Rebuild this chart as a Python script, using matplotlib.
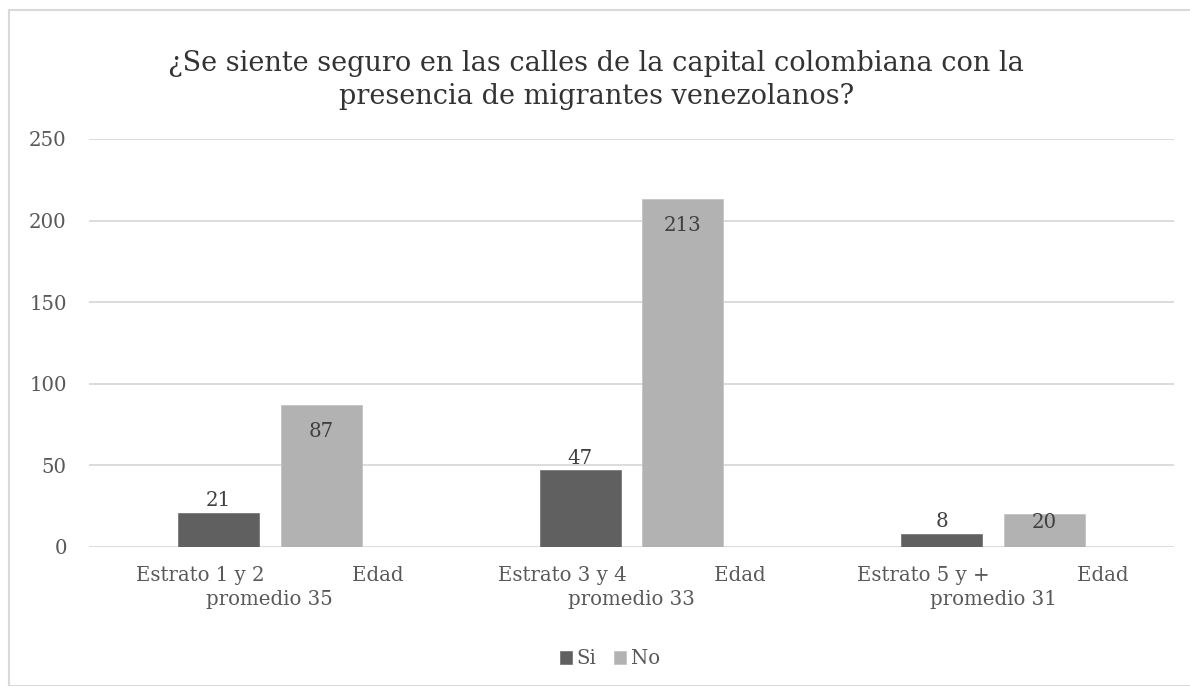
import numpy as np
import matplotlib.pyplot as plt
from matplotlib.patches import Rectangle

# Data
categories = ["Estrato 1 y 2              Edad\npromedio 35",
              "Estrato 3 y 4              Edad\npromedio 33",
              "Estrato 5 y +              Edad\npromedio 31"]
si_values = [21, 47, 8]
no_values = [87, 213, 20]
title = "¿Se siente seguro en las calles de la capital colombiana con la\npresencia de migrantes venezolanos?"

plt.rcParams['font.family'] = ['DejaVu Serif']
text_color = '#595959'
grid_color = '#d9d9d9'
fs = 14.2

fig = plt.figure(figsize=(11.9, 6.86), dpi=100)
ax = fig.add_axes([89 / 1190, 1 - 547 / 686, (1174 - 89) / 1190, (547 - 139) / 686])

x = np.arange(len(categories))
w = 0.224
off = 0.142
bars_si = ax.bar(x - off, si_values, w, color='#606060', edgecolor='#7a7a7a', linewidth=0.6, label='Si', zorder=3)
bars_no = ax.bar(x + off, no_values, w, color='#b2b2b2', edgecolor='#c4c4c4', linewidth=0.6, label='No', zorder=3)

ax.set_xlim(-0.5, len(categories) - 0.5)
ax.set_ylim(0, 250)

# value labels: Si above the bar, No inside the top (short bars: label sits at the top edge)
for b, v in zip(bars_si, si_values):
    ax.annotate(str(v), (b.get_x() + b.get_width() / 2, v), xytext=(0, 2),
                textcoords='offset points', ha='center', va='bottom',
                fontsize=fs, color='#404040')
for b, v in zip(bars_no, no_values):
    dy = -12 if v > 30 else 1
    ax.annotate(str(v), (b.get_x() + b.get_width() / 2, v), xytext=(0, dy),
                textcoords='offset points', ha='center', va='top',
                fontsize=fs, color='#404040')

ax.set_yticks(np.arange(0, 251, 50))
ax.set_xticks(x)
ax.set_xticklabels(categories, fontsize=fs, color=text_color, linespacing=1.3)
ax.tick_params(axis='y', labelsize=fs, labelcolor=text_color, length=0, pad=16)
ax.tick_params(axis='x', length=0, pad=14)
ax.grid(axis='y', color=grid_color, linewidth=1.3, zorder=0)
for s in ax.spines.values():
    s.set_visible(False)

fig.text(0.501, 1 - 80 / 686, title, ha='center', va='center', fontsize=19.5,
         color='#333333', linespacing=1.3)

fig.legend(handles=[bars_si, bars_no], labels=['Si', 'No'], loc='center',
           bbox_to_anchor=(610 / 1190, 1 - 659 / 686), ncol=2, frameon=False,
           fontsize=fs, labelcolor=text_color, handlelength=0.6, handleheight=0.6,
           handletextpad=0.25, columnspacing=0.9)

# light chart border
fig.patches.append(Rectangle((9 / 1190, 0), 1.2, 1 - 10 / 686, transform=fig.transFigure,
                             fill=False, edgecolor=grid_color, linewidth=1.5))

fig.savefig('out.png', dpi=100)
